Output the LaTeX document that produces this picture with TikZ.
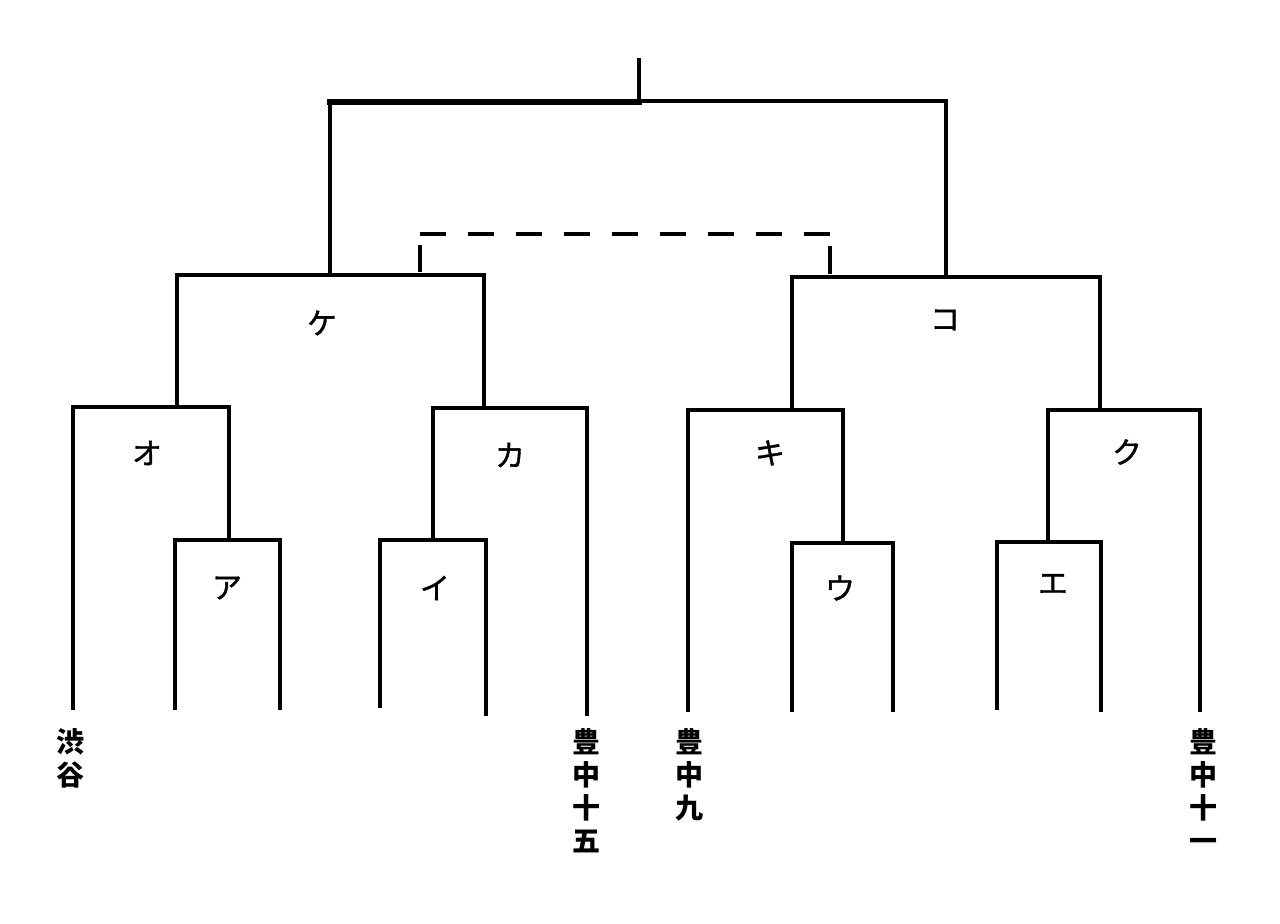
\documentclass[tikz,border=0pt]{standalone}
\usepackage{fontspec}
\newfontfamily\jp{Noto Sans CJK JP}
\newfontfamily\jpm[FakeBold=1.2]{Noto Sans CJK JP}
\begin{document}
\begin{tikzpicture}[x=0.5pt,y=-0.5pt,
  br/.style={line width=2.2pt,line cap=rect,line join=miter},
  thk/.style={line width=3.2pt,line cap=rect},
  dsh/.style={line width=2.2pt,dash pattern=on 13pt off 11pt},
  lbl/.style={font=\jpm\fontsize{15}{15}\selectfont},
  team/.style={font=\jp\bfseries\fontsize{14}{16.5}\selectfont,align=center,anchor=north,inner sep=0pt}]
\useasboundingbox (0,0) rectangle (1280,923);
% final
\coordinate (top) at (639,60);
\draw[br] (top) -- (639,101);
\draw[thk] (330,102) -- (639,102);
\draw[br] (639,101) -- (946,101) -- (946,273);
\draw[br] (330,101) -- (330,273);
% third place (dashed)
\draw[dsh] (420,234) -- (832,234);
\draw[br] (420,247) -- (420,270);
\draw[br] (830,248) -- (830,272);
% semifinal ke
\draw[br] (177,407) -- (177,275) -- (484,275) -- (484,407);
\node[lbl] (ke) at (322,323) {ケ};
% semifinal ko
\draw[br] (792,410) -- (792,277) -- (1100,277) -- (1100,410);
\node[lbl] (ko) at (945,320) {コ};
% o
\draw[br] (73,708) -- (73,407) -- (229,407) -- (229,540);
\node[lbl] (o) at (147,453) {オ};
% ka
\draw[br] (433,540) -- (433,408) -- (587,408) -- (587,714);
\node[lbl] (ka) at (510,455) {カ};
% ki
\draw[br] (688,710) -- (688,410) -- (843,410) -- (843,542);
\node[lbl] (ki) at (770,453) {キ};
% ku
\draw[br] (1048,542) -- (1048,410) -- (1200,410) -- (1200,710);
\node[lbl] (ku) at (1127,452) {ク};
% a
\draw[br] (175,708) -- (175,540) -- (280,540) -- (280,708);
\node[lbl] (a) at (227,588) {ア};
% i
\draw[br] (380,706) -- (380,540) -- (486,540) -- (486,714);
\node[lbl] (i) at (435,588) {イ};
% u
\draw[br] (792,710) -- (792,543) -- (893,543) -- (893,710);
\node[lbl] (u) at (840,588) {ウ};
% e
\draw[br] (997,708) -- (997,542) -- (1101,542) -- (1101,710);
\node[lbl] (e) at (1053,584) {エ};
% teams
\node[team] (shibuya) at (70,728) {渋\\谷};
\node[team] (t15) at (586,728) {豊\\中\\十\\五};
\node[team] (t9) at (689,728) {豊\\中\\九};
\node[team] (t11) at (1203,728) {豊\\中\\十\\一};
\end{tikzpicture}
\end{document}
